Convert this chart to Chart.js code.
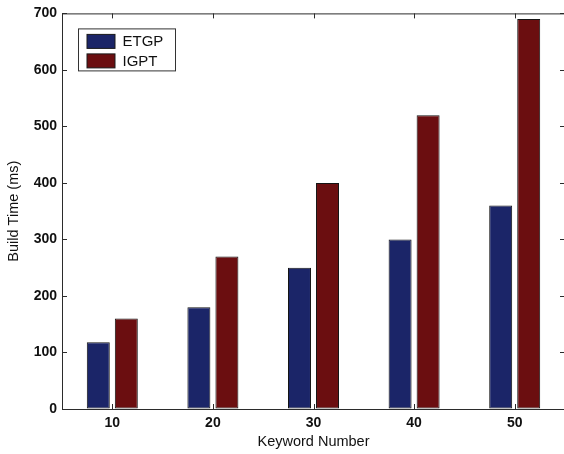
<!DOCTYPE html>
<html>
<head>
<meta charset="utf-8">
<script src="https://cdn.jsdelivr.net/npm/chart.js@4/dist/chart.umd.min.js"></script>
<style>
  html, body { margin: 0; padding: 0; overflow: hidden; background: #ffffff; }
  #wrap { position: relative; width: 566px; height: 454px; }
</style>
</head>
<body>
<div id="wrap"><canvas id="chart" width="566" height="454"></canvas></div>
<script>
// Keyword counts on the x axis
const categories = ['10', '20', '30', '40', '50'];
// Build time (ms) per method
const etgpValues = [118, 180, 250, 300, 360];
const igptValues = [160, 270, 400, 520, 690];
// Y axis tick values
const yTickValues = [0, 100, 200, 300, 400, 500, 600, 700];

const FONT = "'Liberation Sans', Arial, Helvetica, sans-serif";
const AXIS_COLOR = '#2b2b2b';

// Box frame, inward tick marks and an in-plot legend, MATLAB style
const framePlugin = {
  id: 'frame',
  afterDraw(chart) {
    const ctx = chart.ctx;
    const { left, right, top, bottom } = chart.chartArea;
    const xs = chart.scales.x;
    const ys = chart.scales.y;
    ctx.save();
    ctx.strokeStyle = AXIS_COLOR;
    ctx.lineWidth = 1;
    ctx.beginPath();
    ctx.moveTo(left, top + 0.5);
    ctx.lineTo(right, top + 0.5);
    ctx.moveTo(right - 0.5, top);
    ctx.lineTo(right - 0.5, bottom);
    ys.ticks.forEach((t, i) => {
      const y = Math.round(ys.getPixelForTick(i)) + 0.5;
      ctx.moveTo(left, y); ctx.lineTo(left + 5, y);
      ctx.moveTo(right, y); ctx.lineTo(right - 5, y);
    });
    xs.ticks.forEach((t, i) => {
      const x = Math.round(xs.getPixelForTick(i)) + 0.5;
      ctx.moveTo(x, bottom); ctx.lineTo(x, bottom - 5);
      ctx.moveTo(x, top); ctx.lineTo(x, top + 5);
    });
    ctx.stroke();

    // legend box
    const bx = left + 16.5, by = top + 15.5, bw = 97, bh = 42;
    ctx.fillStyle = '#ffffff';
    ctx.fillRect(bx, by, bw, bh);
    ctx.strokeStyle = '#333333';
    ctx.strokeRect(bx, by, bw, bh);
    ctx.font = '15px ' + FONT;
    ctx.textBaseline = 'middle';
    ctx.textAlign = 'left';
    chart.data.datasets.forEach((ds, i) => {
      const sy = by + 5.5 + i * 19.5;
      ctx.fillStyle = ds.backgroundColor;
      ctx.fillRect(bx + 8.5, sy, 28, 14);
      ctx.strokeStyle = '#1a1a1a';
      ctx.strokeRect(bx + 8.5, sy, 28, 14);
      ctx.fillStyle = '#111111';
      ctx.fillText(ds.label, bx + 44, sy + 7.5);
    });
    ctx.restore();
  }
};

new Chart(document.getElementById('chart'), {
  type: 'bar',
  data: {
    labels: categories,
    datasets: [
      {
        label: 'ETGP',
        data: etgpValues,
        backgroundColor: '#1b2568',
        borderColor: '#141414',
        borderWidth: 1,
        borderSkipped: false
      },
      {
        label: 'IGPT',
        data: igptValues,
        backgroundColor: '#6b0e10',
        borderColor: '#141414',
        borderWidth: 1,
        borderSkipped: false
      }
    ]
  },
  options: {
    responsive: false,
    animation: false,
    devicePixelRatio: 1,
    categoryPercentage: 0.557,
    barPercentage: 0.82,
    layout: { padding: { top: 13, right: 1, left: 0, bottom: 0 } },
    plugins: {
      legend: { display: false },
      tooltip: { enabled: false }
    },
    scales: {
      x: {
        type: 'category',
        offset: true,
        grid: { display: true, drawOnChartArea: false, drawTicks: false },
        border: { display: true, color: AXIS_COLOR, width: 1 },
        ticks: {
          color: '#111111',
          font: { family: FONT, size: 14, weight: 'bold' },
          padding: 6,
          maxRotation: 0
        },
        title: {
          display: true,
          text: 'Keyword Number',
          color: '#111111',
          font: { family: FONT, size: 14.5 },
          padding: { top: 0, bottom: 3 }
        },
        afterFit(scale) { scale.height = 45; }
      },
      y: {
        min: 0,
        max: 700,
        grid: { display: true, drawOnChartArea: false, drawTicks: false },
        border: { display: true, color: AXIS_COLOR, width: 1 },
        ticks: {
          color: '#111111',
          font: { family: FONT, size: 14, weight: 'bold' },
          padding: 5
        },
        afterBuildTicks(scale) {
          scale.ticks = yTickValues.map(v => ({ value: v }));
        },
        title: {
          display: true,
          text: 'Build Time (ms)',
          color: '#111111',
          font: { family: FONT, size: 14.5 },
          padding: { top: 5, bottom: 0 }
        },
        afterFit(scale) { scale.width = 62; }
      }
    }
  },
  plugins: [framePlugin]
});
</script>
</body>
</html>
